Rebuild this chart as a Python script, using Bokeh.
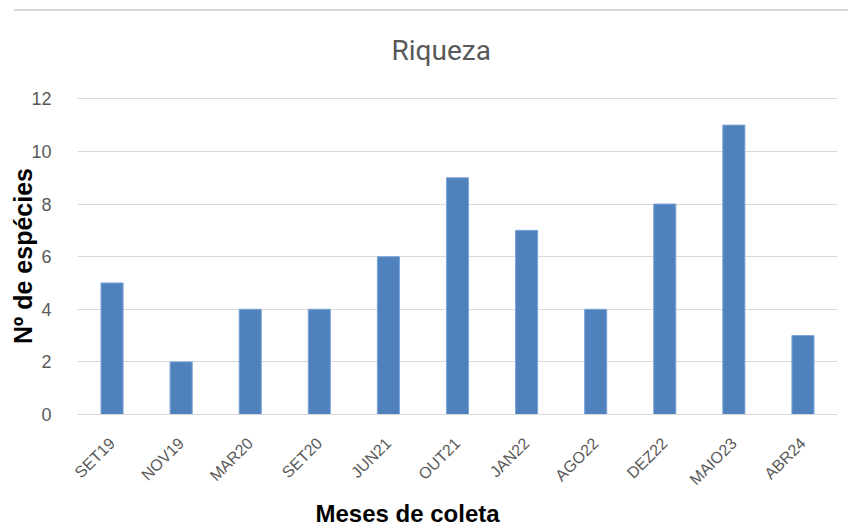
import math
from bokeh.plotting import figure
from bokeh.models import ColumnDataSource, FixedTicker, Title, Div
from bokeh.layouts import column
from bokeh.embed import file_html
from bokeh.resources import INLINE

months = ["SET19", "NOV19", "MAR20", "SET20", "JUN21", "OUT21",
          "JAN22", "AGO22", "DEZ22", "MAIO23", "ABR24"]
species = [5, 2, 4, 4, 6, 9, 7, 4, 8, 11, 3]
y_ticks = [0, 2, 4, 6, 8, 10, 12]

source = ColumnDataSource(data=dict(month=months, species=species))

p = figure(x_range=months, y_range=(0, 12.05), width=840, height=515,
           output_backend="svg", toolbar_location=None,
           min_border_left=77, min_border_right=3, min_border_top=86,
           min_border_bottom=97)
p.vbar(x="month", top="species", width=0.32, source=source,
       fill_color="#4f81bd", line_color="#7ea6d8", line_width=1)

spacer = Title(text=" ", text_font_size="12px")
p.add_layout(spacer, "above")
title = Title(text="Riqueza", align="left", offset=314,
              text_font="Roboto", text_font_size="28px",
              text_color="#595959", text_font_style="normal")
p.add_layout(title, "above")

xt = Title(text="Meses de coleta", align="left", offset=238, standoff=0,
           text_font="Liberation Sans", text_font_size="24px",
           text_color="#000000", text_font_style="bold")
p.add_layout(xt, "below")

p.outline_line_color = None
p.background_fill_color = "white"
p.border_fill_color = "white"

p.yaxis.ticker = FixedTicker(ticks=y_ticks)
p.yaxis.axis_line_color = None
p.yaxis.major_tick_line_color = None
p.yaxis.minor_tick_line_color = None
p.yaxis.major_label_standoff = 20
p.yaxis.major_label_text_font = "Liberation Sans"
p.yaxis.major_label_text_font_size = "18px"
p.yaxis.major_label_text_color = "#595959"
p.yaxis.axis_label = "Nº de espécies"
p.yaxis.axis_label_standoff = -9
p.yaxis.axis_label_text_font = "Liberation Sans"
p.yaxis.axis_label_text_font_size = "25px"
p.yaxis.axis_label_text_font_style = "bold"
p.yaxis.axis_label_text_color = "#000000"

p.xaxis.axis_line_color = "#d9d9d9"
p.xaxis.axis_line_width = 1
p.xaxis.major_tick_line_color = None
p.xaxis.minor_tick_line_color = None
p.xaxis.major_label_orientation = math.pi / 4
p.xaxis.major_label_standoff = 20
p.xaxis.major_label_text_font = "Liberation Sans"
p.xaxis.major_label_text_font_size = "16px"
p.xaxis.major_label_text_color = "#595959"

p.xgrid.grid_line_color = None
p.ygrid.grid_line_color = "#d9d9d9"
p.ygrid.grid_line_width = 1

top_line = Div(text="", width=834, height=2, margin=(9, 0, 0, 14),
               styles={"background-color": "#d9d9d9"})

layout = column(top_line, p, spacing=0)

with open("out.html", "w") as f:
    f.write(file_html(layout, INLINE))
